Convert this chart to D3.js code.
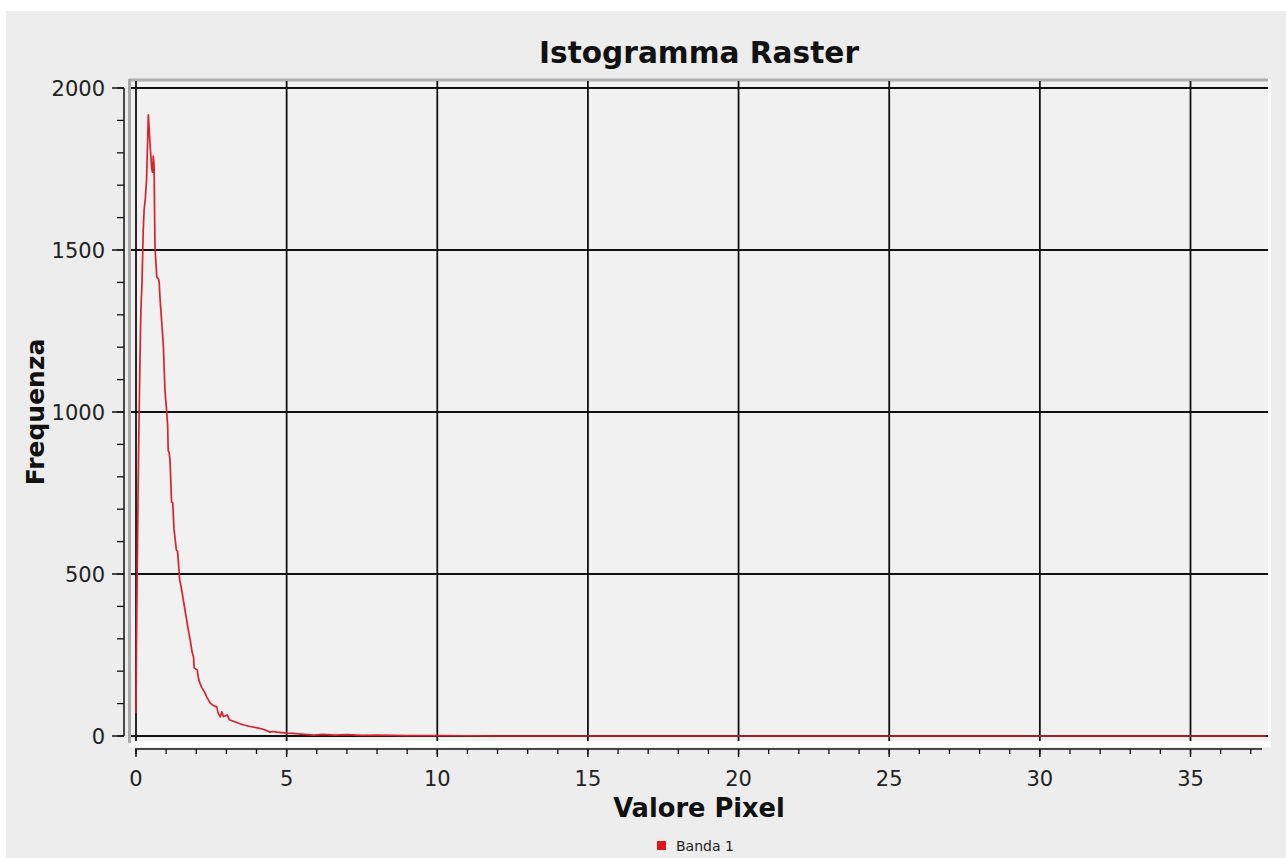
<!DOCTYPE html>
<html>
<head>
<meta charset="utf-8">
<script src="https://cdn.jsdelivr.net/npm/d3@7"></script>
<style>
  html, body { margin: 0; padding: 0; background: #ffffff; }
  svg { display: block; font-family: "DejaVu Sans", Verdana, sans-serif; }
</style>
</head>
<body>
<svg id="chart" width="1286" height="858"></svg>
<script>
// values: pixel value vs frequency (Banda 1)
const pixelValues = [0.00, 0.02, 0.04, 0.07, 0.10, 0.13, 0.16, 0.20, 0.24, 0.27, 0.31, 0.35, 0.41,
  0.47, 0.52, 0.55, 0.575, 0.60, 0.63, 0.69, 0.75, 0.77, 0.80, 0.86, 0.91, 0.96, 1.02, 1.05, 1.07,
  1.10, 1.13, 1.18, 1.22, 1.26, 1.34, 1.38, 1.45, 1.50, 1.61, 1.66, 1.72, 1.80, 1.86, 1.91, 1.93,
  2.03, 2.08, 2.12, 2.18, 2.29, 2.35, 2.46, 2.55, 2.68, 2.73, 2.80, 2.85, 2.90, 3.03, 3.10, 3.30,
  3.45, 3.58, 3.75, 4.03, 4.25, 4.45, 4.55, 4.67, 5.0, 5.2, 5.5, 5.9, 6.2, 6.6, 7.0, 7.5, 8.0,
  8.5, 9.0, 10.0, 12.0, 15.0, 20.0, 25.0, 30.0, 35.0, 37.5];
const frequencies = [70, 320, 500, 760, 975, 1150, 1306, 1400, 1560, 1625, 1660, 1716, 1917,
  1820, 1753, 1740, 1790, 1760, 1509, 1417, 1410, 1400, 1346, 1270, 1200, 1068, 1000, 960, 880,
  875, 850, 722, 720, 640, 574, 570, 481, 460, 398, 370, 336, 296, 260, 244, 210,
  204, 175, 164, 150, 133, 120, 102, 95, 90, 70, 59, 75, 60, 65, 50, 43,
  38, 34, 30, 25, 20, 12, 14, 12, 9, 8, 6, 3, 5, 3, 4, 2, 3,
  2, 1, 1, 0, 0, 0, 0, 0, 0, 0];

const xTicks = [0, 5, 10, 15, 20, 25, 30, 35];
const yTicks = [0, 500, 1000, 1500, 2000];
const xMinorTicks = d3.range(0, 38, 1);
const yMinorTicks = d3.range(0, 2001, 100);

const svg = d3.select("#chart");

// plot area box
const plot = { left: 129, right: 1268, top: 79, bottom: 741 };

const x = d3.scaleLinear().domain([0, 35]).range([136, 1190.5]);
const y = d3.scaleLinear().domain([0, 2000]).range([736, 88]);

// panel background
svg.append("rect")
  .attr("x", 6).attr("y", 11)
  .attr("width", 1280).attr("height", 847)
  .attr("fill", "#ededed");

// plot background + borders
svg.append("rect")
  .attr("x", plot.left).attr("y", plot.top)
  .attr("width", plot.right - plot.left).attr("height", plot.bottom - plot.top)
  .attr("fill", "#f1f1f1");

svg.append("line")
  .attr("x1", plot.left).attr("x2", plot.right + 3)
  .attr("y1", plot.bottom + 3).attr("y2", plot.bottom + 3)
  .attr("stroke", "#ffffff").attr("stroke-width", 6);
svg.append("line")
  .attr("x1", plot.right + 1.5).attr("x2", plot.right + 1.5)
  .attr("y1", plot.top).attr("y2", plot.bottom + 3)
  .attr("stroke", "#ffffff").attr("stroke-width", 3);
svg.append("line")
  .attr("x1", plot.left).attr("x2", plot.right)
  .attr("y1", plot.top + 1).attr("y2", plot.top + 1)
  .attr("stroke", "#b0b0b0").attr("stroke-width", 3);
svg.append("line")
  .attr("x1", plot.left + 0.5).attr("x2", plot.left + 0.5)
  .attr("y1", plot.top).attr("y2", plot.bottom + 2)
  .attr("stroke", "#a8a8a8").attr("stroke-width", 3);

// gridlines
const grid = svg.append("g").attr("stroke", "#111").attr("stroke-width", 1.8);
grid.selectAll("line.vx").data(xTicks).enter().append("line")
  .attr("x1", d => x(d)).attr("x2", d => x(d))
  .attr("y1", plot.top + 2).attr("y2", plot.bottom);
grid.selectAll("line.hy").data(yTicks).enter().append("line")
  .attr("x1", plot.left + 2).attr("x2", plot.right)
  .attr("y1", d => y(d)).attr("y2", d => y(d));

// series line
const line = d3.line()
  .x((d, i) => x(pixelValues[i]))
  .y(d => y(d));

svg.append("path")
  .datum(frequencies)
  .attr("d", line)
  .attr("fill", "none")
  .attr("stroke", "#d9232b")
  .attr("stroke-width", 1.7)
  .attr("stroke-linejoin", "round");

// x axis
const axisY = 749;
svg.append("line")
  .attr("x1", x(0) - 1).attr("x2", 1262)
  .attr("y1", axisY).attr("y2", axisY)
  .attr("stroke", "#111").attr("stroke-width", 1.5);
svg.append("g").selectAll("line").data(xMinorTicks).enter().append("line")
  .attr("x1", d => x(d)).attr("x2", d => x(d))
  .attr("y1", axisY).attr("y2", axisY + 5)
  .attr("stroke", "#111").attr("stroke-width", 1.3);
svg.append("g").selectAll("line").data(xTicks).enter().append("line")
  .attr("x1", d => x(d)).attr("x2", d => x(d))
  .attr("y1", axisY).attr("y2", axisY + 8)
  .attr("stroke", "#111").attr("stroke-width", 1.5);
svg.append("g").selectAll("text").data(xTicks).enter().append("text")
  .attr("x", d => x(d)).attr("y", 786)
  .attr("text-anchor", "middle")
  .attr("font-size", 21)
  .attr("fill", "#222")
  .text(d => d);

// y axis
const axisX = 124;
svg.append("line")
  .attr("x1", axisX).attr("x2", axisX)
  .attr("y1", y(2000)).attr("y2", y(0))
  .attr("stroke", "#111").attr("stroke-width", 1.5);
svg.append("g").selectAll("line").data(yMinorTicks).enter().append("line")
  .attr("x1", axisX - 7).attr("x2", axisX)
  .attr("y1", d => y(d)).attr("y2", d => y(d))
  .attr("stroke", "#111").attr("stroke-width", 1.3);
svg.append("g").selectAll("line").data(yTicks).enter().append("line")
  .attr("x1", axisX - 12).attr("x2", axisX)
  .attr("y1", d => y(d)).attr("y2", d => y(d))
  .attr("stroke", "#111").attr("stroke-width", 1.5);
svg.append("g").selectAll("text").data(yTicks).enter().append("text")
  .attr("x", 105).attr("y", d => y(d))
  .attr("dy", "0.36em")
  .attr("text-anchor", "end")
  .attr("font-size", 21)
  .attr("fill", "#222")
  .text(d => d);

// titles
svg.append("text")
  .attr("x", 699).attr("y", 63)
  .attr("text-anchor", "middle")
  .attr("font-size", 29.6).attr("font-weight", "bold")
  .attr("fill", "#111")
  .text("Istogramma Raster");

svg.append("text")
  .attr("x", 699).attr("y", 817)
  .attr("text-anchor", "middle")
  .attr("font-size", 25.7).attr("font-weight", "bold")
  .attr("fill", "#111")
  .text("Valore Pixel");

svg.append("text")
  .attr("transform", "translate(44,412) rotate(-90)")
  .attr("text-anchor", "middle")
  .attr("font-size", 25).attr("font-weight", "bold")
  .attr("fill", "#111")
  .text("Frequenza");

// legend
svg.append("rect")
  .attr("x", 657).attr("y", 841)
  .attr("width", 9).attr("height", 9)
  .attr("fill", "#e3141c");
svg.append("text")
  .attr("x", 676).attr("y", 851)
  .attr("font-size", 14)
  .attr("fill", "#222")
  .text("Banda 1");
</script>
</body>
</html>
